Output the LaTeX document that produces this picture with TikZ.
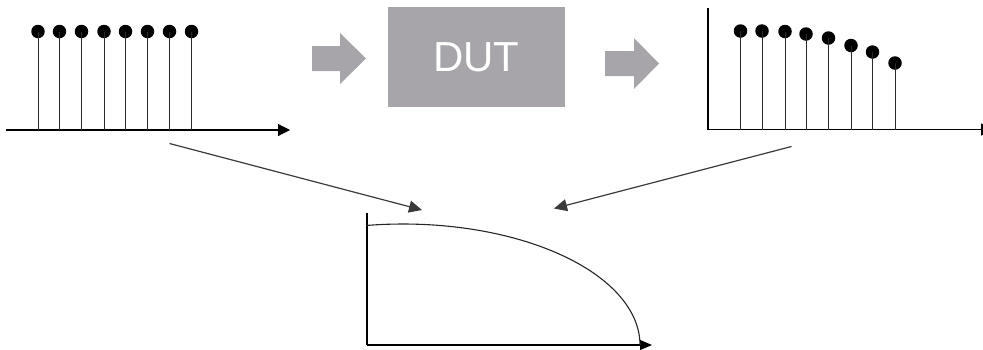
\documentclass[tikz,border=0pt]{standalone}
\usepackage{fontspec}
\setmainfont{Liberation Sans}
\usetikzlibrary{arrows.meta}
\definecolor{blockgray}{HTML}{A7A5A9}
\definecolor{stemgray}{HTML}{2A2A2A}
\definecolor{slantgray}{HTML}{3A3A3A}
\tikzset{
  axisline/.style={line width=1.1pt, black},
  axisarrow/.style={axisline, -{Triangle[length=12pt,width=12pt]}},
  smallaxisarrow/.style={axisline, -{Triangle[length=12pt,width=10pt]}},
  stemline/.style={line width=0.9pt, stemgray},
  dotmark/.style={circle, fill=black, inner sep=0pt, minimum size=13.5pt},
  slantarrow/.style={line width=1.2pt, slantgray, -{Triangle[length=13pt,width=12pt]}, shorten >=0pt},
  blockarrow/.style={fill=blockgray, draw=none},
  dutbox/.style={fill=blockgray, draw=none, minimum width=177pt, minimum height=100pt, inner sep=0pt,
    text=white, font=\fontsize{42}{42}\selectfont}
}
\begin{document}
\begin{tikzpicture}[x=1pt, y=-1pt]
\useasboundingbox (0,0) rectangle (983,349);

% ---- left input graph ----
\coordinate (lo) at (6,130);
\coordinate (lx) at (290,130);
\draw[axisarrow] (lo) -- (lx);
\foreach \i/\xx in {1/38,2/59.5,3/81.5,4/104,5/125.5,6/147.5,7/169.5,8/191.5}{
  \coordinate (lb\i) at (\xx,130);
  \node[dotmark] (ld\i) at (\xx,31.5) {};
  \draw[stemline] (lb\i) -- (ld\i.center);
}

% ---- gray block arrows ----
\fill[blockarrow] (312,46) -- (340,46) -- (340,33) -- (366,58.5) -- (340,84) -- (340,71) -- (312,71) -- cycle;
\fill[blockarrow] (605,51) -- (634,51) -- (634,38) -- (659,63.5) -- (634,89) -- (634,76) -- (605,76) -- cycle;

% ---- DUT box ----
\node[dutbox] (dut) at (476.5,57) {DUT};

% ---- right output graph ----
\coordinate (ro) at (708,129.5);
\coordinate (ry) at (708,8);
\coordinate (rx) at (993,129.5);
\draw[axisline] (ry) -- (ro);
\draw[axisarrow] (ro) -- (rx);
\foreach \i/\xx/\yy in {1/740.5/31,2/762/31,3/785/31.5,4/806/34,5/828.5/38,6/851/45.5,7/872.5/52,8/895/63}{
  \coordinate (rb\i) at (\xx,129.5);
  \node[dotmark] (rd\i) at (\xx,\yy) {};
  \draw[stemline] (rb\i) -- (rd\i.center);
}

% ---- bottom response graph ----
\coordinate (bo) at (367,345);
\coordinate (by) at (367,213);
\coordinate (bx) at (652,345);
\draw[axisline] (by) -- (bo);
\draw[smallaxisarrow] (bo) -- (bx);
\draw[line width=1.1pt, black!85] plot[domain=99:0, samples=60] ({403+237*cos(\x)},{345-121*sin(\x)});

% ---- slanted arrows ----
\coordinate (s1) at (169.5,143.5);
\coordinate (t1) at (422,210);
\coordinate (s2) at (791.5,146.5);
\coordinate (t2) at (554,208.5);
\draw[slantarrow] (s1) -- (t1);
\draw[slantarrow] (s2) -- (t2);
\end{tikzpicture}
\end{document}
